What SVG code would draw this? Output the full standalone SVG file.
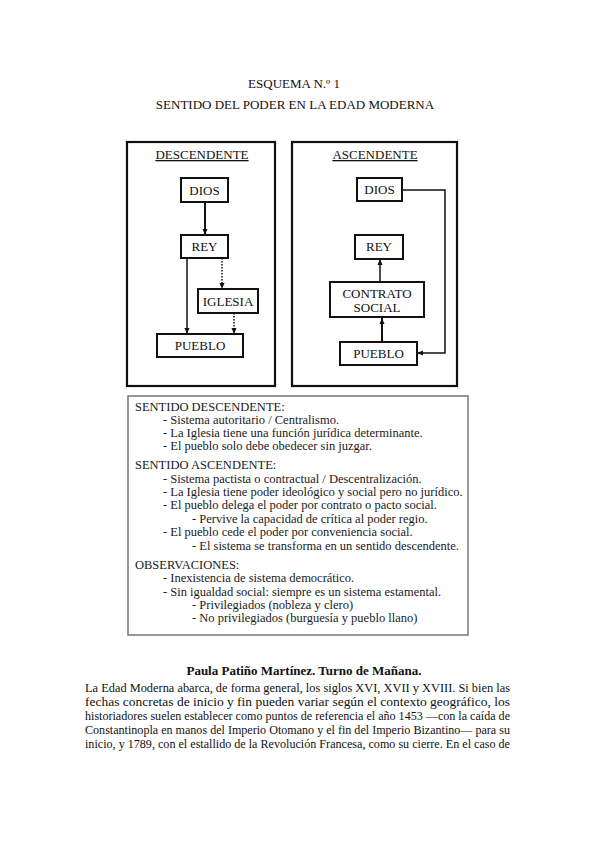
<svg xmlns="http://www.w3.org/2000/svg" width="599" height="848" viewBox="0 0 599 848">
<style>
text{font-family:"Liberation Serif","Times New Roman",serif;fill:#111}
.t{font-size:13px;text-anchor:middle}
.n rect{fill:#fff;stroke:#111;stroke-width:2}
.n text{font-size:13px;text-anchor:middle}
.frame{fill:#fff;stroke:#111;stroke-width:2.2}
.tb{fill:#fff;stroke:#777;stroke-width:1.5}
.l{font-size:12.5px;fill:#1a1a1a}
.c{fill:none;stroke:#111}
.p{font-size:12.5px}
</style>
<defs>
<marker id="ah" markerUnits="userSpaceOnUse" markerWidth="6" markerHeight="6" viewBox="0 0 6 6" refX="6" refY="3" orient="auto">
<path d="M0,0.5 L6,3 L0,5.5 Z" fill="#111"/>
</marker>
</defs>
<rect width="599" height="848" fill="#fff"/>
<g id="title">
<text class="t" x="294" y="88">ESQUEMA N.º 1</text>
<text class="t" x="295" y="109">SENTIDO DEL PODER EN LA EDAD MODERNA</text>
</g>
<rect class="frame" x="127" y="142" width="148" height="244"/>
<rect class="frame" x="292" y="142" width="165" height="244"/>
<text class="t" x="202" y="159" text-decoration="underline">DESCENDENTE</text>
<text class="t" x="375" y="159" text-decoration="underline">ASCENDENTE</text>
<g id="connectors">
<line class="c" x1="205" y1="202" x2="205" y2="235" stroke-width="2" marker-end="url(#ah)"/>
<line class="c" x1="187" y1="258" x2="187" y2="334" stroke-width="1.5" marker-end="url(#ah)"/>
<line class="c" x1="222" y1="258" x2="222" y2="289" stroke-width="1.5" stroke-dasharray="1.5 1.5" marker-end="url(#ah)"/>
<line class="c" x1="234" y1="313" x2="234" y2="334" stroke-width="1.5" stroke-dasharray="1.5 1.5" marker-end="url(#ah)"/>
<path class="c" d="M402,190 H445 V353 H417" stroke-width="1.5" marker-end="url(#ah)"/>
<line class="c" x1="380" y1="282" x2="380" y2="259" stroke-width="1.5" marker-end="url(#ah)"/>
<line class="c" x1="382" y1="342" x2="382" y2="318" stroke-width="2" marker-end="url(#ah)"/>
</g>
<g id="d-dios" class="n"><rect x="181" y="178" width="47" height="24"/><text x="204.5" y="195">DIOS</text></g>
<g id="d-rey" class="n"><rect x="181" y="235" width="47" height="23"/><text x="204.5" y="251">REY</text></g>
<g id="d-iglesia" class="n"><rect x="198" y="289" width="60" height="24"/><text x="228" y="306">IGLESIA</text></g>
<g id="d-pueblo" class="n"><rect x="157" y="334" width="86" height="23"/><text x="200" y="350">PUEBLO</text></g>
<g id="a-dios" class="n"><rect x="357" y="178" width="45" height="23"/><text x="379.5" y="194">DIOS</text></g>
<g id="a-rey" class="n"><rect x="355" y="235" width="48" height="24"/><text x="379" y="251">REY</text></g>
<g id="a-contrato" class="n"><rect x="330" y="282" width="94" height="35"/><text x="377" y="298">CONTRATO</text><text x="377" y="312">SOCIAL</text></g>
<g id="a-pueblo" class="n"><rect x="340" y="342" width="77" height="23"/><text x="378.5" y="358">PUEBLO</text></g>
<g id="notes">
<rect class="tb" x="128" y="396" width="340" height="239"/>
<text class="l" x="135" y="411">SENTIDO DESCENDENTE:</text>
<text class="l" x="163" y="424">- Sistema autoritario / Centralismo.</text>
<text class="l" x="163" y="437">- La Iglesia tiene una función jurídica determinante.</text>
<text class="l" x="163" y="450">- El pueblo solo debe obedecer sin juzgar.</text>
<text class="l" x="135" y="469">SENTIDO ASCENDENTE:</text>
<text class="l" x="163" y="483">- Sistema pactista o contractual / Descentralización.</text>
<text class="l" x="163" y="496">- La Iglesia tiene poder ideológico y social pero no jurídico.</text>
<text class="l" x="163" y="509">- El pueblo delega el poder por contrato o pacto social.</text>
<text class="l" x="192" y="523">- Pervive la capacidad de crítica al poder regio.</text>
<text class="l" x="163" y="536">- El pueblo cede el poder por conveniencia social.</text>
<text class="l" x="192" y="550">- El sistema se transforma en un sentido descendente.</text>
<text class="l" x="135" y="569">OBSERVACIONES:</text>
<text class="l" x="163" y="582">- Inexistencia de sistema democrático.</text>
<text class="l" x="163" y="596">- Sin igualdad social: siempre es un sistema estamental.</text>
<text class="l" x="192" y="609">- Privilegiados (nobleza y clero)</text>
<text class="l" x="192" y="622">- No privilegiados (burguesía y pueblo llano)</text>
</g>
<g id="body">
<text x="304" y="675" font-size="13" font-weight="bold" text-anchor="middle">Paula Patiño Martínez. Turno de Mañana.</text>
<text class="p" x="85" y="692" textLength="425" lengthAdjust="spacingAndGlyphs">La Edad Moderna abarca, de forma general, los siglos XVI, XVII y XVIII. Si bien las</text>
<text class="p" x="85" y="706" textLength="425" lengthAdjust="spacingAndGlyphs">fechas concretas de inicio y fin pueden variar según el contexto geográfico, los</text>
<text class="p" x="85" y="720" textLength="425" lengthAdjust="spacingAndGlyphs">historiadores suelen establecer como puntos de referencia el año 1453 —con la caída de</text>
<text class="p" x="85" y="734" textLength="425" lengthAdjust="spacingAndGlyphs">Constantinopla en manos del Imperio Otomano y el fin del Imperio Bizantino— para su</text>
<text class="p" x="85" y="748" textLength="425" lengthAdjust="spacingAndGlyphs">inicio, y 1789, con el estallido de la Revolución Francesa, como su cierre. En el caso de</text>
</g>
</svg>
